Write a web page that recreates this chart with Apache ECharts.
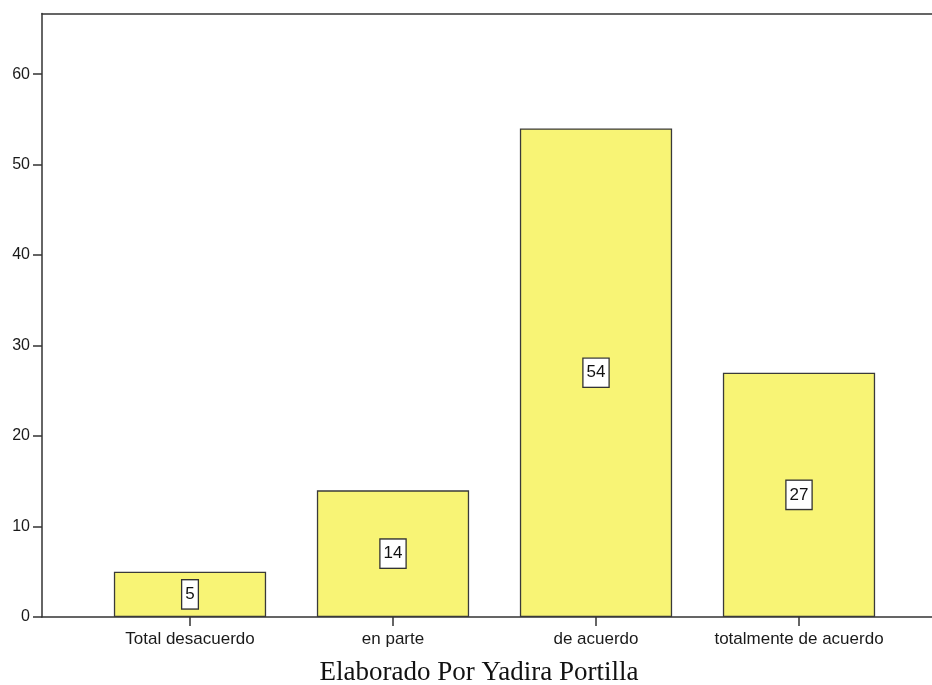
<!DOCTYPE html>
<html>
<head>
<meta charset="utf-8">
<script src="https://cdn.jsdelivr.net/npm/echarts@6/dist/echarts.min.js"></script>
<style>
  html, body { margin: 0; padding: 0; background: #ffffff; }
  #chart { width: 932px; height: 685px; }
</style>
</head>
<body>
<div id="chart"></div>
<script>
// Response categories and their counts
const categories = ['Total desacuerdo', 'en parte', 'de acuerdo', 'totalmente de acuerdo'];
const counts = [5, 14, 54, 27];
// Labelled ticks on the count axis
const yTicks = [0, 10, 20, 30, 40, 50, 60];
const yMax = 66.7;
const caption = 'Elaborado Por Yadira Portilla';

const axisColor = '#333333';
const textColor = '#1a1a1a';
const barFill = '#f8f475';
const sans = 'Liberation Sans, Arial, sans-serif';

const chart = echarts.init(document.getElementById('chart'), null, { renderer: 'canvas' });

const option = {
  animation: false,
  backgroundColor: '#ffffff',
  grid: [
    // frame: left axis, bottom baseline and top line
    { left: 42, right: 0, top: 13.5, bottom: 68 },
    // bars and category ticks, inset from the frame
    { left: 88.5, right: 31.5, top: 13.5, bottom: 68 }
  ],
  xAxis: [
    {
      gridIndex: 0, type: 'value', min: 0, max: 1, position: 'bottom',
      axisLine: { show: true, onZero: false, lineStyle: { color: axisColor, width: 1.5 } },
      axisTick: { show: false }, axisLabel: { show: false }, splitLine: { show: false }
    },
    {
      gridIndex: 0, type: 'value', min: 0, max: 1, position: 'top',
      axisLine: { show: true, onZero: false, lineStyle: { color: axisColor, width: 1.5 } },
      axisTick: { show: false }, axisLabel: { show: false }, splitLine: { show: false }
    },
    {
      gridIndex: 1, type: 'category', data: categories, position: 'bottom',
      axisLine: { show: false, onZero: false },
      axisTick: { show: true, interval: 0, alignWithLabel: true, length: 9, lineStyle: { color: axisColor, width: 1.5 } },
      axisLabel: { interval: 0, fontSize: 17, color: textColor, margin: 14, fontFamily: sans },
      splitLine: { show: false }
    }
  ],
  yAxis: [
    {
      gridIndex: 0, type: 'value', min: 0, max: yMax, interval: 10,
      axisLine: { show: true, lineStyle: { color: axisColor, width: 1.5 } },
      axisTick: { show: true, length: 9, customValues: yTicks, lineStyle: { color: axisColor, width: 1.5 } },
      axisLabel: { customValues: yTicks, fontSize: 16, color: textColor, margin: 12, fontFamily: sans },
      splitLine: { show: false }
    },
    {
      gridIndex: 1, type: 'value', min: 0, max: yMax, show: false
    }
  ],
  series: [
    {
      type: 'bar',
      xAxisIndex: 2,
      yAxisIndex: 1,
      data: counts,
      barWidth: '75%',
      itemStyle: { color: barFill, borderColor: '#3a3a3a', borderWidth: 1.3 },
      label: {
        show: true,
        position: 'inside',
        fontSize: 17,
        color: '#111111',
        fontFamily: sans,
        backgroundColor: '#ffffff',
        borderColor: '#333333',
        borderWidth: 1.3,
        padding: [6, 3, 5, 3]
      }
    }
  ],
  graphic: [
    {
      type: 'text',
      x: 479,
      y: 659,
      style: {
        text: caption,
        align: 'center',
        font: '27px "Liberation Serif", "Times New Roman", serif',
        fill: '#111111'
      }
    }
  ]
};

chart.setOption(option);
</script>
</body>
</html>
